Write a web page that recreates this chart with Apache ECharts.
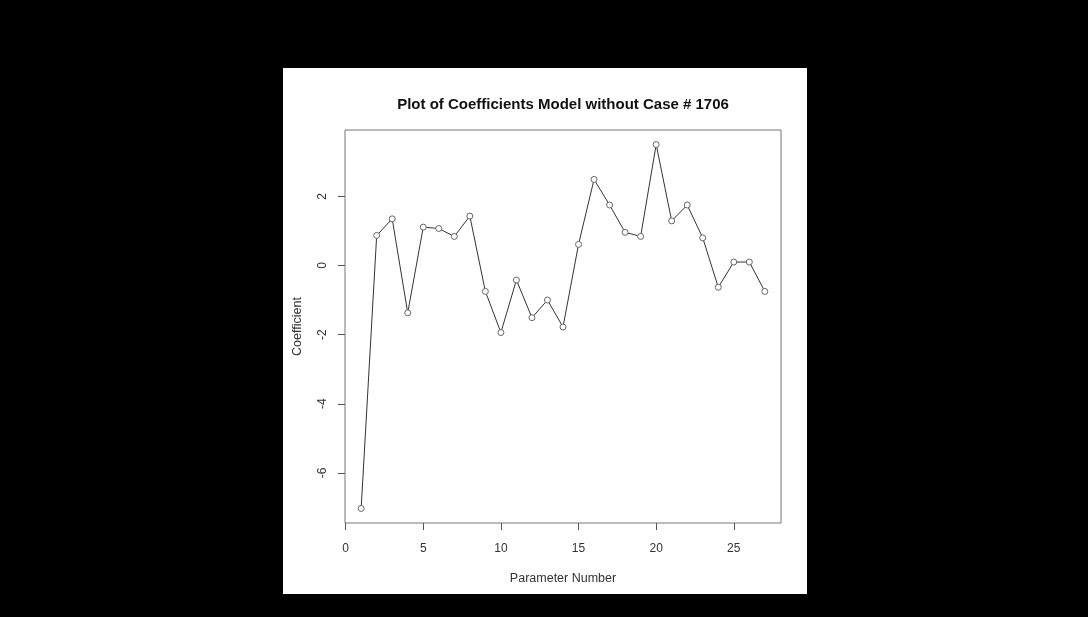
<!DOCTYPE html>
<html>
<head>
<meta charset="utf-8">
<script src="https://cdn.jsdelivr.net/npm/echarts@6/dist/echarts.min.js"></script>
<style>
html,body{margin:0;padding:0;background:#000;width:1088px;height:617px;overflow:hidden;}
#panel{position:absolute;left:283px;top:68px;width:524px;height:526px;background:#fff;}
#chart{position:absolute;left:0;top:0;width:1088px;height:617px;}
</style>
</head>
<body>
<div id="panel"></div>
<div id="chart"></div>
<script>
const paramNumbers = [1,2,3,4,5,6,7,8,9,10,11,12,13,14,15,16,17,18,19,20,21,22,23,24,25,26,27];
const coefficients = [-7.03,0.87,1.35,-1.37,1.11,1.07,0.84,1.43,-0.75,-1.94,-0.42,-1.51,-1.00,-1.78,0.61,2.49,1.75,0.96,0.84,3.50,1.29,1.75,0.80,-0.63,0.10,0.10,-0.75];
const xTicks = [0,5,10,15,20,25];
const yTicks = [-6,-4,-2,0,2];

const chart = echarts.init(document.getElementById('chart'), null, {renderer:'canvas'});
const font = '"Liberation Sans", Arial, sans-serif';
chart.setOption({
  backgroundColor: 'transparent',
  animation: false,
  title: {
    text: 'Plot of Coefficients Model without Case # 1706',
    left: 558, top: 92, textAlign: 'center',
    textStyle: {fontFamily: font, fontSize: 15, fontWeight: 'bold', color: '#111'}
  },
  grid: {left: 345, top: 130, width: 436, height: 393, show: true, borderColor: '#777', borderWidth: 1, backgroundColor: 'transparent'},
  xAxis: {
    type: 'value', min: -0.04, max: 28.04,
    name: 'Parameter Number', nameLocation: 'middle', nameGap: 49,
    nameTextStyle: {fontFamily: font, fontSize: 12.5, color: '#333'},
    axisLine: {show: false, onZero: false},
    axisTick: {show: true, length: 7, lineStyle: {color: '#555'}, customValues: xTicks},
    axisLabel: {fontFamily: font, fontSize: 12, color: '#333', margin: 20, customValues: xTicks},
    splitLine: {show: false}
  },
  yAxis: {
    type: 'value', min: -7.45, max: 3.92,
    name: 'Coefficient', nameLocation: 'middle', nameGap: 41, nameRotate: 90,
    nameTextStyle: {fontFamily: font, fontSize: 12.5, color: '#333'},
    axisLine: {show: false, onZero: false},
    axisTick: {show: true, length: 7, lineStyle: {color: '#555'}, customValues: yTicks},
    axisLabel: {fontFamily: font, fontSize: 12, color: '#333', margin: 16, rotate: 90, customValues: yTicks},
    splitLine: {show: false}
  },
  series: [{
    type: 'line',
    data: paramNumbers.map((p, i) => [p, coefficients[i]]),
    symbol: 'circle', symbolSize: 6,
    itemStyle: {color: '#fff', borderColor: '#666', borderWidth: 1},
    lineStyle: {color: '#333', width: 1}
  }]
});
</script>
</body>
</html>
